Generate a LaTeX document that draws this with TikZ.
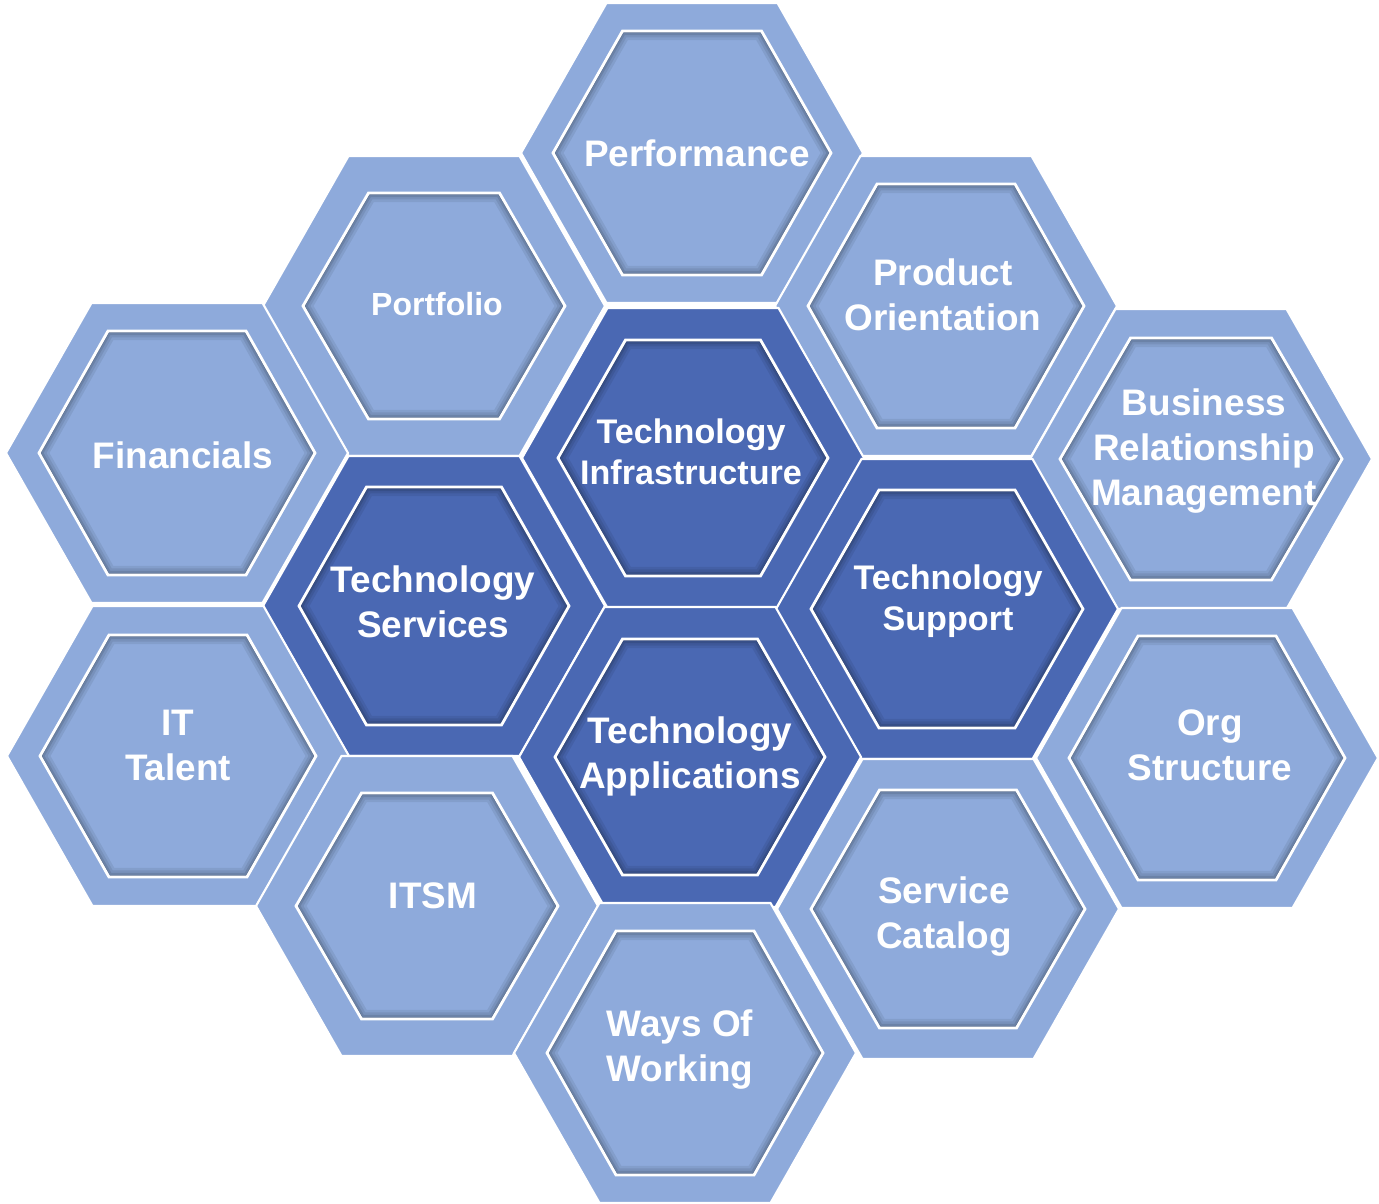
\documentclass[tikz,border=0pt]{standalone}
\usepackage{fontspec}
\setmainfont{Liberation Sans}
\usepackage{tikz}

\definecolor{hexlight}{HTML}{8EAADB}
\definecolor{hexdark}{HTML}{4A68B3}

% flat-topped hexagon, half width #1, half height #2
\newcommand{\hexshape}[2]{(-#1,0) -- (-#1/2,-#2) -- (#1/2,-#2) -- (#1,0) -- (#1/2,#2) -- (-#1/2,#2) -- cycle}

\begin{document}
\begin{tikzpicture}[
     x = 0.01cm,
     y = -0.01cm,
     line join = miter
    ]
    \tikzstyle{outer hex}=[draw=white, line width=0.6pt]
    \tikzstyle{inner rim}=[draw=white, line width=0.8pt]
    \tikzstyle{hex label}=[text=white, align=center, inner sep=0pt,
        font=\bfseries\fontsize{10.5}{12.8}\selectfont]
    \tikzstyle{small label}=[hex label, font=\bfseries\fontsize{9.7}{11.8}\selectfont]

    \useasboundingbox (0,0) rectangle (1379,1204);

    % outer cells
    \foreach \cx/\cy/\col in {692/153/hexlight, 434/306/hexlight, 946/306/hexlight,
        177/453/hexlight, 693/458/hexdark, 1201/459/hexlight, 434/606/hexdark,
        947/609/hexdark, 178/756/hexlight, 690/757/hexdark, 1207/758/hexlight,
        427/906/hexlight, 948/909/hexlight, 685/1053/hexlight}
      \filldraw[outer hex, fill=\col, shift={(\cx,\cy)}] \hexshape{171}{150};

    % inner cells with inner shadow
    \foreach \cx/\cy/\col/\r/\h in {692/153/hexlight/139/122, 434/306/hexlight/131/113,
        946/306/hexlight/138/122, 177/453/hexlight/138/122, 693/458/hexdark/135/118,
        1201/459/hexlight/141/121, 434/606/hexdark/135/119, 947/609/hexdark/136/119,
        178/756/hexlight/138/121, 690/757/hexdark/135/118, 1207/758/hexlight/138/122,
        427/906/hexlight/131/113, 948/909/hexlight/137/119, 685/1053/hexlight/138/122}
    {
      \begin{scope}[shift={(\cx,\cy)}]
        \fill[\col] \hexshape{\r}{\h};
        \begin{scope}
          \clip \hexshape{\r}{\h};
          \foreach \w/\o in {5.2/0.07, 3.7/0.08, 2.3/0.10, 1.1/0.14}
            \draw[black, opacity=\o, line width=\w pt] \hexshape{\r}{\h};
        \end{scope}
        \draw[inner rim] \hexshape{\r}{\h};
      \end{scope}
    }

    % labels
    \node[hex label] (performance) at (697,153) {Performance};
    \node[hex label, font=\bfseries\fontsize{9.1}{11}\selectfont] (portfolio) at (437,304) {Portfolio};
    \node[hex label] (product) at (943,295) {Product\\Orientation};
    \node[hex label] (financials) at (183,455) {Financials};
    \node[small label] (infra) at (691,452) {Technology\\Infrastructure};
    \node[hex label] (brm) at (1204,451) {Business\\Relationship\\Management};
    \node[hex label] (services) at (433,602) {Technology\\Services};
    \node[small label] (support) at (948,601) {Technology\\Support};
    \node[hex label] (talent) at (178,745) {IT\\Talent};
    \node[hex label] (apps) at (690,756) {Technology\\Applications};
    \node[hex label] (org) at (1210,745) {Org\\Structure};
    \node[hex label] (itsm) at (433,896) {ITSM};
    \node[hex label] (catalog) at (944,917) {Service\\Catalog};
    \node[hex label] (ways) at (680,1050) {Ways Of\\Working};
\end{tikzpicture}
\end{document}
